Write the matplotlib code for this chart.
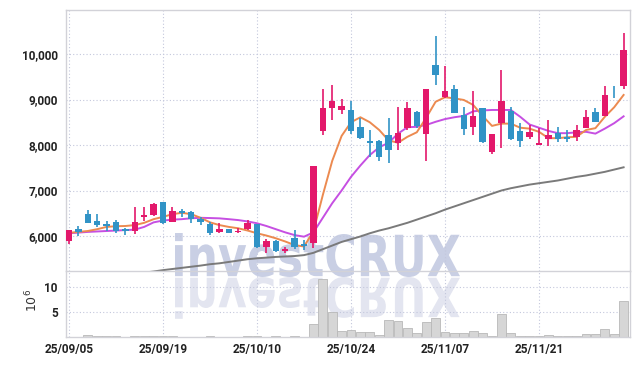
import numpy as np
import matplotlib
matplotlib.use("Agg")
import matplotlib.pyplot as plt
from matplotlib.textpath import TextPath
from matplotlib.patches import PathPatch
from matplotlib.font_manager import FontProperties
from matplotlib.transforms import Affine2D, IdentityTransform

# ---- data (one entry per trading day) ----
opens = [5890, 6150, 6490, 6330, 6265, 6310, 6145, 6115, 6410, 6455,
         6750, 6315, 6555, 6520, 6365, 6270, 6080, 6155, 6080, 6160,
         6255, 5765, 5900, 5670, 5965, 5820, 5840, 8300, 8820, 8770,
         8770, 8400, 8095, 8095, 8220, 8050, 8370, 8730, 8240, 9760,
         9060, 9230, 8660, 8400, 8805, 7855, 8490, 8755, 8315, 8180,
         8000, 8125, 8270, 8170, 8170, 8380, 8725, 8645, 9150, 9300]
highs = [6135, 6220, 6570, 6480, 6335, 6350, 6180, 6645, 6640, 6730,
         6750, 6645, 6590, 6540, 6410, 6315, 6280, 6160, 6180, 6350,
         6255, 5930, 5910, 5750, 6130, 5910, 7540, 9225, 9320, 9005,
         8975, 8585, 8330, 8100, 8585, 8830, 8950, 8750, 9225, 10395,
         9735, 9320, 8830, 9195, 8820, 8250, 9650, 8840, 8475, 8440,
         8365, 8550, 8390, 8330, 8440, 8770, 8805, 9300, 9300, 10455]
lows = [5820, 6000, 6280, 6200, 6115, 6065, 6020, 6045, 6335, 6430,
        6270, 6300, 6410, 6280, 6240, 6020, 6060, 6060, 6070, 6140,
        5730, 5620, 5650, 5620, 5710, 5690, 5730, 8220, 8550, 8680,
        8240, 8130, 7745, 7650, 7600, 7890, 8340, 8380, 7640, 9320,
        9040, 8700, 8220, 8220, 8040, 7800, 7930, 8100, 7960, 8125,
        7990, 7980, 8070, 8070, 8095, 8370, 8500, 8640, 9025, 9230]
closes = [6130, 6095, 6290, 6240, 6220, 6110, 6115, 6310, 6455, 6705,
          6290, 6550, 6500, 6365, 6310, 6065, 6155, 6075, 6115, 6285,
          5765, 5900, 5670, 5715, 5750, 5780, 7540, 8805, 8965, 8855,
          8315, 8160, 8050, 7745, 7890, 8270, 8805, 8420, 9225, 9540,
          9185, 8710, 8350, 8640, 8070, 8240, 8965, 8125, 8095, 8280,
          8040, 8220, 8125, 8125, 8330, 8610, 8510, 9100, 9140, 10090]
volume = [0.1, 0.1, 0.5, 0.15, 0.15, 0.15, 0.05, 0.3, 0.3, 0.3,
          0.15, 0.15, 0.05, 0.05, 0.05, 0.15, 0.05, 0.05, 0.05, 0.15,
          0.15, 0.05, 0.3, 0.05, 0.3, 0.05, 2.7, 11.7, 5.1, 1.3,
          1.5, 1.1, 1.1, 0.5, 3.5, 3.3, 1.9, 0.9, 3.1, 3.9,
          1.1, 0.8, 0.8, 1.3, 0.9, 0.3, 4.7, 0.9, 0.3, 0.3,
          0.3, 0.5, 0.15, 0.15, 0.3, 0.7, 0.7, 1.7, 0.7, 7.3]
ma_short = [6070, 6090, 6110, 6150, 6200, 6215, 6220, 6240, 6290, 6370,
            6420, 6480, 6510, 6480, 6400, 6300, 6240, 6200, 6170, 6120,
            6060, 6010, 5950, 5880, 5800, 5770, 6100, 6900, 7650, 8200,
            8500, 8610, 8500, 8330, 8100, 8050, 8180, 8280, 8600, 8950,
            9050, 9025, 8990, 8880, 8640, 8420, 8470, 8470, 8380, 8360,
            8290, 8150, 8150, 8170, 8180, 8330, 8370, 8620, 8830, 9100]
ma_mid = [6060, 6075, 6090, 6100, 6110, 6120, 6130, 6140, 6200, 6300,
          6340, 6360, 6370, 6390, 6400, 6395, 6388, 6370, 6350, 6320,
          6280, 6220, 6150, 6080, 6020, 5985, 6080, 6400, 6720, 7000,
          7300, 7550, 7780, 7950, 8050, 8250, 8390, 8400, 8440, 8510,
          8570, 8610, 8640, 8740, 8760, 8770, 8770, 8770, 8620, 8450,
          8380, 8310, 8260, 8260, 8280, 8290, 8250, 8360, 8480, 8630]
ma_long = [np.nan] * 8 + [
    5195, 5220, 5250, 5275, 5300, 5325, 5350, 5380, 5400, 5430, 5460, 5490,
    5510, 5525, 5540, 5550, 5560, 5580, 5630, 5710, 5790, 5870, 5930, 5990,
    6060, 6120, 6170, 6230, 6290, 6360, 6430, 6500, 6580, 6650, 6720, 6790,
    6860, 6930, 7000, 7050, 7090, 7130, 7160, 7190, 7220, 7260, 7300, 7330,
    7370, 7410, 7460, 7510]
tick_idx = [0, 10, 20, 30, 40, 50]
tick_labels = ["25/09/05", "25/09/19", "25/10/10", "25/10/24", "25/11/07", "25/11/21"]

UP = "#e3186b"
DOWN = "#3193c6"
GRID = "#c3c7dc"
SPINE = "#d2d2d8"

o = np.array(opens, float)
h = np.array(highs, float)
l = np.array(lows, float)
c = np.array(closes, float)
x = np.arange(len(o))
up = c >= o
colors = np.where(up, UP, DOWN)

fig = plt.figure(figsize=(6.39, 3.66), dpi=100)
fig.patch.set_facecolor("white")
W, H = 639, 366
ax = fig.add_axes([66 / W, 1 - 271 / H, 564 / W, 261 / H])
axv = fig.add_axes([66 / W, 1 - 337 / H, 564 / W, 66 / H], sharex=ax)
for a in (ax, axv):
    a.set_facecolor("none")
    for s in a.spines.values():
        s.set_color(SPINE)
        s.set_linewidth(1.0)
    a.grid(True, color=GRID, linestyle=(0, (1, 2)), linewidth=0.8)
    a.set_axisbelow(True)
    a.tick_params(length=0, pad=6, labelsize=8.5, labelcolor="#222222")
axv.spines["top"].set_visible(False)

# watermark with its reflection
fp = FontProperties(family="DejaVu Sans", weight="bold")
tp = TextPath((0, 0), "investCRUX", size=1, prop=fp)
ext = tp.get_extents()
sx = 285 / ext.width
sy = 44 / ext.height
tr_up = Affine2D().translate(-ext.x0, -ext.y0).scale(sx, sy).translate(175, H - 277)
tr_dn = Affine2D().translate(-ext.x0, -ext.y0).scale(sx, -sy * 0.95).translate(175, H - 277)
fig.add_artist(PathPatch(tr_up.transform_path(tp), transform=IdentityTransform(),
                         facecolor="#c9cfe4", edgecolor="none", zorder=-1))
fig.add_artist(PathPatch(tr_dn.transform_path(tp), transform=IdentityTransform(),
                         facecolor="#e3e5f0", edgecolor="none", zorder=-1))

# moving averages
ax.plot(x, ma_long, color="#7a7a7a", lw=1.4, zorder=2)
ax.plot(x, ma_mid, color="#c64fe2", lw=1.4, zorder=2)
ax.plot(x, ma_short, color="#ec8a50", lw=1.4, zorder=2)

# candles
ax.vlines(x, l, h, colors=colors, linewidth=1.2, zorder=3)
body = np.maximum(np.abs(c - o), 12)
ax.bar(x, body, bottom=np.minimum(o, c), width=0.68, color=colors, zorder=4)

ax.set_xlim(-0.32, 59.68)
ax.set_ylim(5231, 10967)
ax.set_yticks([6000, 7000, 8000, 9000, 10000])
ax.set_yticklabels([f"{v:,}" for v in [6000, 7000, 8000, 9000, 10000]],
                   fontfamily="Roboto", fontweight="bold")
ax.set_xticks(tick_idx)
ax.tick_params(axis="x", labelbottom=False)

# volume
axv.bar(x, volume, width=0.95, color="#d6d6d6", edgecolor="#b8b8b8", linewidth=0.6, zorder=2)
axv.set_ylim(0, 13.2)
axv.set_yticks([5, 10])
axv.set_yticklabels(["5", "10"], fontfamily="Roboto", fontweight="bold")
axv.set_xticks(tick_idx)
axv.set_xticklabels(tick_labels, fontfamily="Roboto", fontweight="bold")
axv.tick_params(axis="x", pad=4)
fig.text(32 / W, 1 - 300 / H, r"$10^6$", rotation=90, ha="center", va="center",
         fontsize=9, color="#333333")

fig.savefig("out.png", dpi=100, facecolor="white")
